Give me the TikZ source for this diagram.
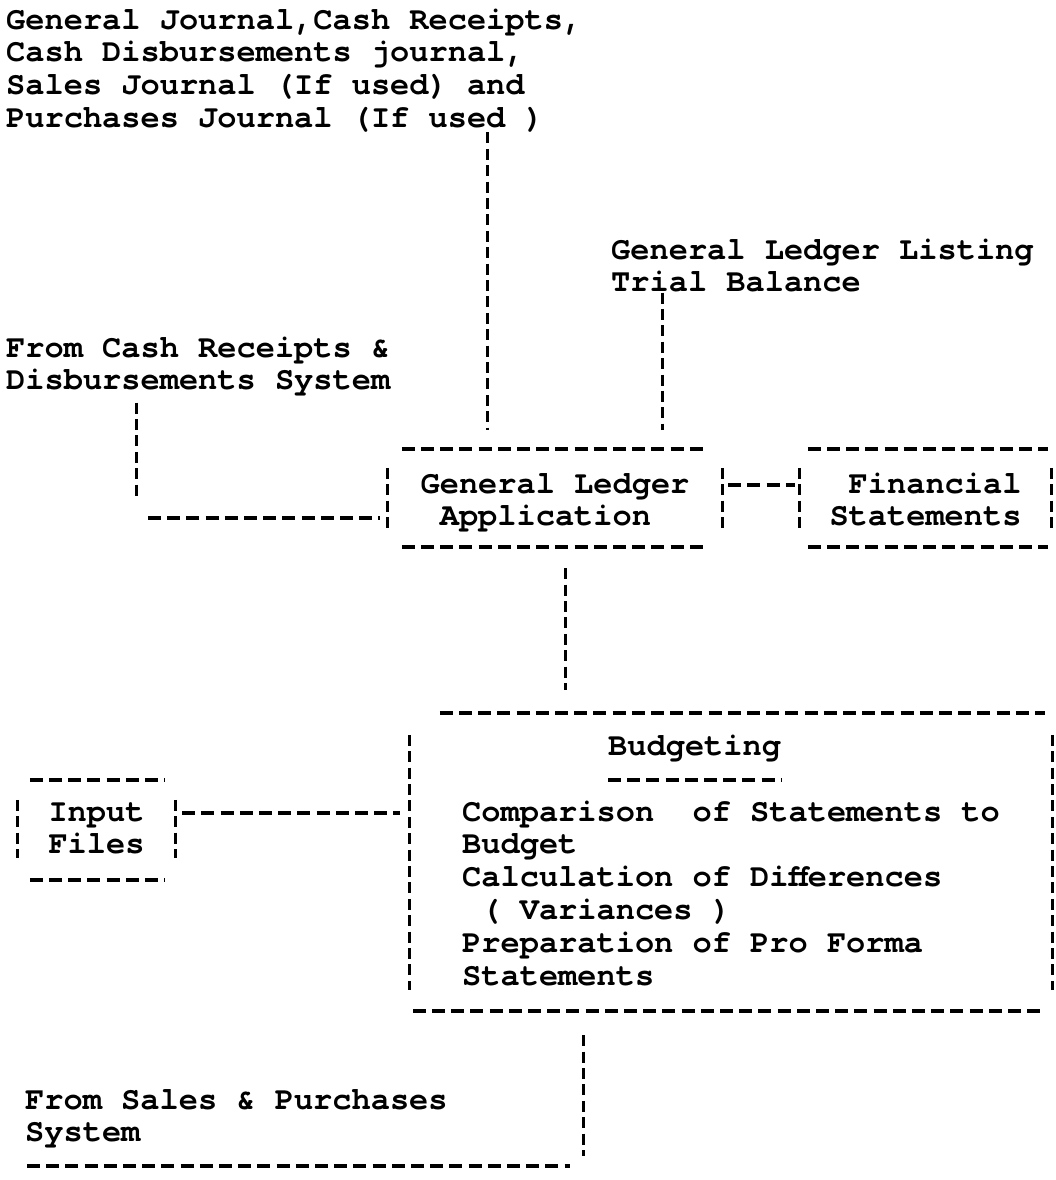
\documentclass[tikz,border=0pt]{standalone}
\usepackage{fontspec}
\newfontfamily\typewfont{texgyrecursor}[Extension=.otf, UprightFont=*-regular, BoldFont=*-bold]
\usetikzlibrary{calc}

\newcommand{\boxsides}[6]{%
  \draw[hline] ([xshift=#2pt]#1.north west) -- ([xshift=-#4pt]#1.north east)
               ([xshift=#3pt]#1.south west) -- ([xshift=-#4pt]#1.south east);
  \draw[vline] ([yshift=-#5pt]#1.north west) -- ([yshift=#6pt]#1.south west)
               ([yshift=-#5pt]#1.north east) -- ([yshift=#6pt]#1.south east);}

\begin{document}
\begin{tikzpicture}[x=1pt,y=-1pt,
  tw/.style={font=\typewfont\bfseries\fontsize{32}{32.8}\selectfont, inner sep=0pt, align=left},
  txt/.style={tw, anchor=base west},
  tbox/.style={tw, anchor=base},
  hline/.style={line width=3.6pt, dash pattern=on 13pt off 6.2pt},
  vline/.style={line width=3pt, dash pattern=on 11pt off 5.4pt}]
\useasboundingbox (0,0) rectangle (1055,1180);
\node[txt] (jrnl)  at (6,127.4)   {General Journal,Cash Receipts,\\Cash Disbursements journal,\\Sales Journal (If used) and\\Purchases Journal (If used )};
\node[txt] (tb)    at (611,291.8) {General Ledger Listing\\Trial Balance};
\node[txt] (cash)  at (6,389.8)   {From Cash Receipts \&\\Disbursements System};
\node[tbox, minimum width=334pt, text height=76.8pt, text depth=21.2pt] (gl) at (555,525.8) {General Ledger\\\phantom{x}Application};
\node[tbox, minimum width=251pt, text height=76.8pt, text depth=21.2pt] (fs) at (925.5,525.8) {\phantom{x}Financial\\Statements};
\node[tbox, minimum width=642pt, text height=272pt, text depth=26pt] (bud) at (731,985)
  {Comparison~ of Statements to\\Budget\\Calculation of Differences\\\phantom{x}( Variances )\\Preparation of Pro Forma\\Statements};
\node[txt] (budt)  at (608,755) {Budgeting};
\node[tbox, minimum width=157pt, text height=73.8pt, text depth=26.2pt] (inp) at (96.5,853.8) {Input\\Files};
\node[txt] (sales) at (25,1141.8) {From Sales \& Purchases\\System};

\boxsides{gl}{14}{14}{14}{19}{15}
\boxsides{fs}{8}{8}{3}{19}{15}
\boxsides{inp}{12}{12}{10}{20}{22}
\boxsides{bud}{30}{3}{7}{22}{21}
\draw[hline] ([yshift=-25pt]budt.base west) -- ([yshift=-25pt]budt.base east);

\coordinate (cc) at (136,518);
\coordinate (ib) at ([yshift=40.8pt]inp.base east);
\coordinate (sc) at (583,1166);
\draw[vline, shorten >=19pt] (487,0 |- jrnl.south) -- (487,0 |- gl.north);
\draw[vline, shorten >=19pt] (662,0 |- tb.south) -- (662,0 |- gl.north);
\draw[vline, shorten <=6pt, shorten >=20pt] (cc |- cash.south) -- (cc);
\draw[hline, shorten <=12pt, shorten >=8pt] (cc) -- (cc -| gl.west);
\draw[hline, shorten <=6pt, shorten >=5pt] ([yshift=40.8pt]gl.base east) -- ([yshift=40.8pt]fs.base west);
\draw[vline, shorten <=21pt, shorten >=23pt] (565,0 |- gl.south) -- (565,0 |- bud.north);
\draw[hline, shorten <=7pt, shorten >=10pt] (ib) -- (ib -| bud.west);
\draw[vline, shorten <=24pt, shorten >=10pt] (sc |- bud.south) -- (sc);
\draw[hline, shorten <=2pt, shorten >=13pt] (sales.base west |- sc) -- (sc);
\end{tikzpicture}
\end{document}
